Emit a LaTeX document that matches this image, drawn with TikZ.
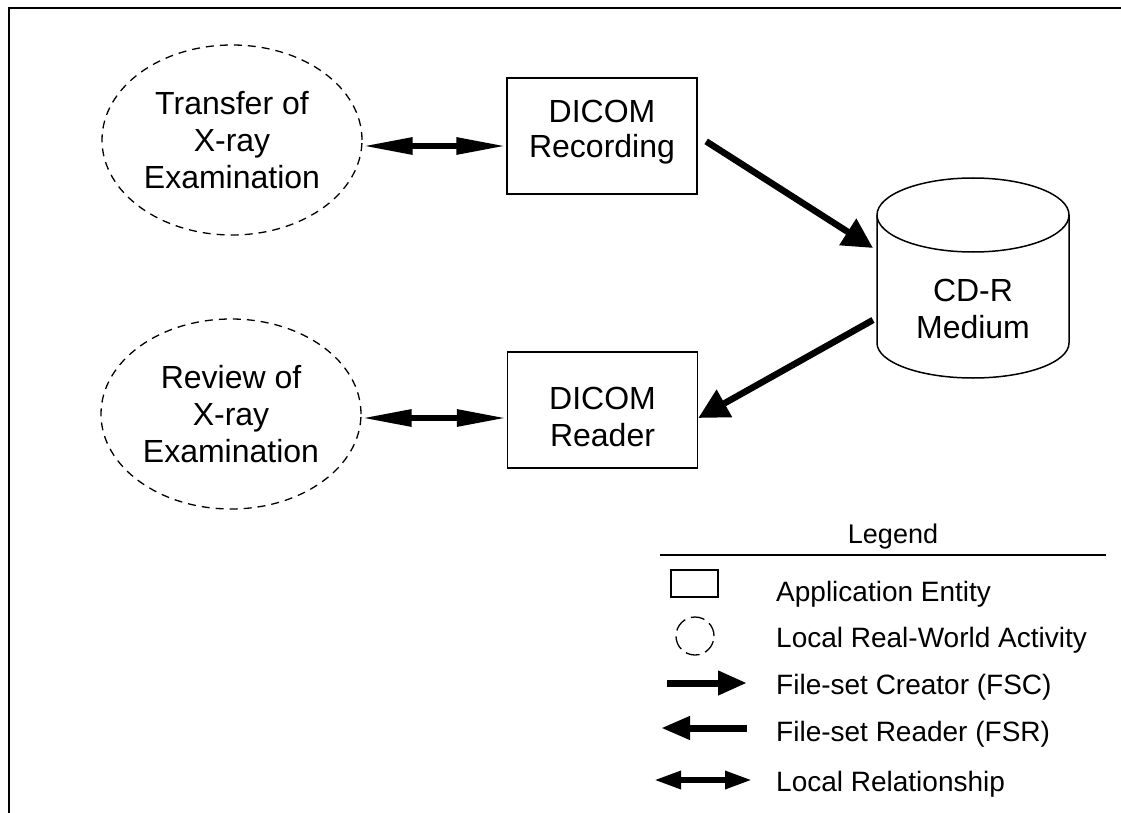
\documentclass[tikz,border=0pt]{standalone}
\usepackage{fontspec}
\setmainfont{Liberation Sans}
\usetikzlibrary{arrows.meta,shapes.geometric}
\begin{document}
\begin{tikzpicture}[x=1pt,y=-1pt,
  main/.style={font=\fontsize{32}{37}\selectfont, align=center},
  lgd/.style={font=\fontsize{28}{32}\selectfont, anchor=base west, inner sep=0pt},
  activity/.style={ellipse, draw, dash pattern=on 8pt off 6pt, line width=1.3pt, minimum width=260pt, minimum height=190pt, inner sep=0pt, main},
  aebox/.style={rectangle, draw, line width=1.5pt, minimum width=190pt, minimum height=116pt},
  rel/.style={line width=6pt, {Triangle[length=50pt,width=16pt]}-{Triangle[length=50pt,width=16pt]}},
  fs/.style={line width=6.5pt, -{Triangle[length=30pt,width=30pt]}},
]
\useasboundingbox (0,0) rectangle (1121,813);
% frame
\draw[line width=2.5pt] (9,813) -- (9,8) -- (1121,8);

% activities
\node[activity] (ell1) at (232,140) {Transfer of\\X-ray\\Examination};
\node[activity] (ell2) at (231,414) {Review of\\X-ray\\Examination};

% application entities
\node[aebox] (rec) at (602,136) {};
\node[main, font=\fontsize{32}{35}\selectfont] (rect) at ([yshift=4pt]rec.center) {DICOM\\Recording};
\node[aebox] (rdr) at (602.5,410) {};
\node[main] (rdrt) at ([yshift=-7pt]rdr.center) {DICOM\\Reader};

% cylinder
\draw[line width=1.5pt] (973,215) ellipse [x radius=96, y radius=37];
\draw[line width=1.5pt] (877,215) -- (877,343) arc[start angle=180, end angle=0, x radius=96, y radius=35] -- (1069,215);
\node[main, minimum width=192pt, minimum height=200pt] (cyl) at (973,309) {CD-R\\Medium};
\coordinate (cylin) at (873,248);
\coordinate (cylout) at (873,320);

% connectors
\draw[rel] ([yshift=-6pt]ell1.east) -- ([yshift=-10pt]rec.west);
\draw[rel] ([yshift=-4pt]ell2.east) -- ([yshift=-8pt]rdr.west);
\draw[fs, shorten <=10pt] (rec.east) -- (cylin);
\draw[fs] (cylout) -- ([yshift=-8pt]rdr.east);

% legend
\node[font=\fontsize{27}{32}\selectfont] (lgdtitle) at (893,537) {Legend};
\draw[line width=2pt] (660,555) -- (1106,555);
\node[draw, line width=1.5pt, minimum width=47pt, minimum height=27pt, inner sep=0pt] (lrect) at (694.5,583.5) {};
\node[circle, draw, dash pattern=on 14pt off 6pt, line width=1.3pt, minimum size=38pt, inner sep=0pt] (lcirc) at (695,636) {};
\coordinate (fsca) at (667,683);
\coordinate (fscb) at (747,683);
\coordinate (fsra) at (747,728);
\coordinate (fsrb) at (661,728);
\coordinate (lra) at (654,780);
\coordinate (lrb) at (752,780);
\draw[line width=7pt, -{Triangle[length=29pt,width=23pt]}] (fsca) -- (fscb);
\draw[line width=7pt, -{Triangle[length=29pt,width=22pt]}] (fsra) -- (fsrb);
\draw[line width=6pt, {Triangle[length=27pt,width=17pt]}-{Triangle[length=27pt,width=17pt]}] (lra) -- (lrb);

\node[lgd] (t1) at (776,601) {Application Entity};
\node[lgd] (t2) at (776,647) {Local Real-World Activity};
\node[lgd] (t3) at (776,694) {File-set Creator (FSC)};
\node[lgd] (t4) at (776,741) {File-set Reader (FSR)};
\node[lgd] (t5) at (776,791) {Local Relationship};
\end{tikzpicture}
\end{document}
